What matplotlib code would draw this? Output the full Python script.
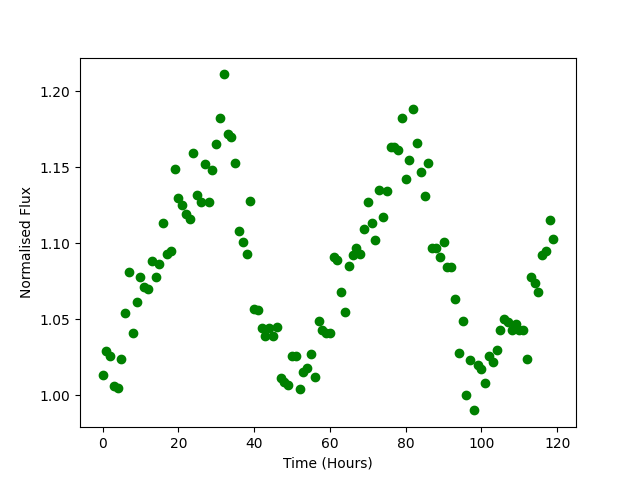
import numpy as np
import matplotlib
matplotlib.use("Agg")
import matplotlib.pyplot as plt

# hourly samples, 0..119
time_hours = np.arange(120)

flux = [
    1.013, 1.029, 1.026, 1.006, 1.005, 1.024, 1.054, 1.081, 1.041, 1.061,
    1.078, 1.071, 1.070, 1.088, 1.078, 1.086, 1.113, 1.093, 1.095, 1.149,
    1.130, 1.125, 1.119, 1.116, 1.159, 1.132, 1.127, 1.152, 1.127, 1.148,
    1.165, 1.182, 1.211, 1.172, 1.170, 1.153, 1.108, 1.101, 1.093, 1.128,
    1.057, 1.056, 1.044, 1.039, 1.044, 1.039, 1.045, 1.011, 1.009, 1.007,
    1.026, 1.026, 1.004, 1.015, 1.018, 1.027, 1.012, 1.049, 1.043, 1.041,
    1.041, 1.091, 1.089, 1.068, 1.055, 1.085, 1.092, 1.097, 1.093, 1.109,
    1.127, 1.113, 1.102, 1.135, 1.117, 1.134, 1.163, 1.163, 1.161, 1.182,
    1.142, 1.155, 1.188, 1.166, 1.147, 1.131, 1.153, 1.097, 1.097, 1.091,
    1.101, 1.084, 1.084, 1.063, 1.028, 1.049, 1.000, 1.023, 0.990, 1.020,
    1.017, 1.008, 1.026, 1.022, 1.030, 1.043, 1.050, 1.048, 1.043, 1.047,
    1.043, 1.043, 1.024, 1.078, 1.074, 1.068, 1.092, 1.095, 1.115, 1.103,
]

fig = plt.figure(figsize=(6.4, 4.8), dpi=100)
plt.plot(time_hours, flux, 'o', color='green')
plt.xlabel('Time (Hours)')
plt.ylabel('Normalised Flux')
plt.savefig('out.png')
